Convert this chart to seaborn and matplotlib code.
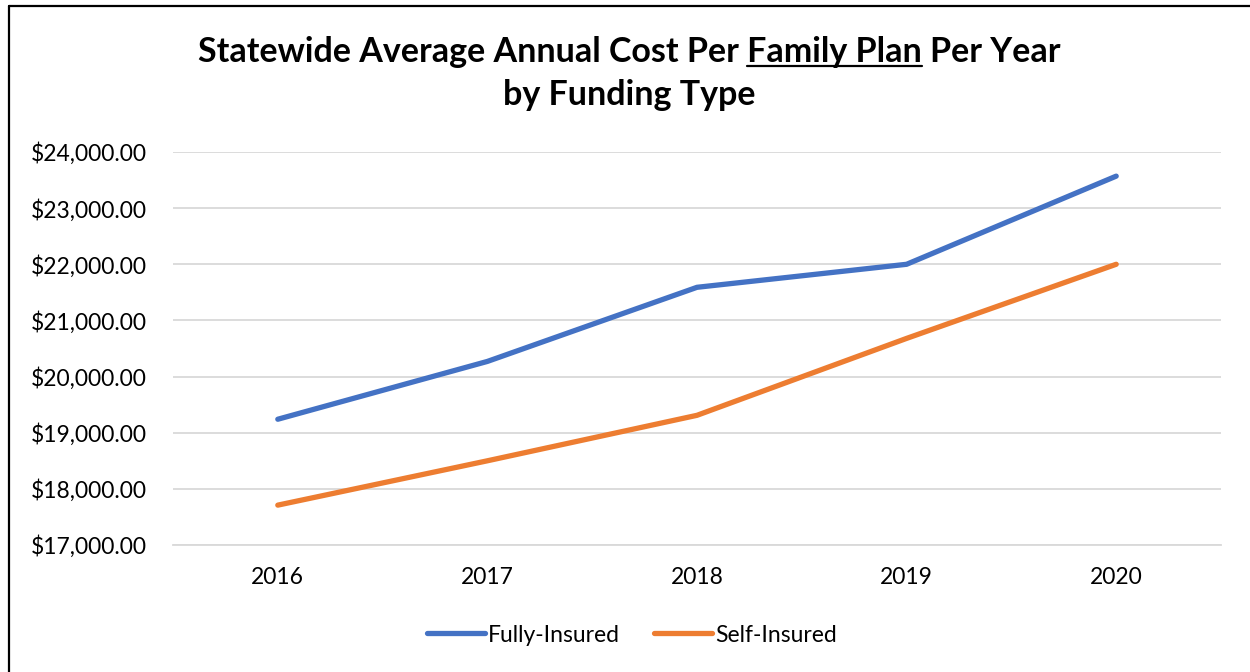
import pandas as pd
import seaborn as sns
import matplotlib.pyplot as plt
from matplotlib.lines import Line2D
from matplotlib.ticker import FuncFormatter

# values
years = ["2016", "2017", "2018", "2019", "2020"]
fully_insured = [19240, 20270, 21590, 22000, 23570]
self_insured = [17710, 18500, 19310, 20680, 22000]
series_names = ["Fully-Insured", "Self-Insured"]
colors = ["#4472C4", "#ED7D31"]
y_ticks = [17000, 18000, 19000, 20000, 21000, 22000, 23000, 24000]

df = pd.DataFrame({
    "Year": years * 2,
    "Cost": fully_insured + self_insured,
    "Type": [series_names[0]] * len(years) + [series_names[1]] * len(years),
})

sns.set_theme(style="white")
plt.rcParams["font.family"] = ["Lato", "DejaVu Sans"]
plt.rcParams["text.color"] = "black"

W, H = 1250, 672
LABEL_FS = 16.5
fig = plt.figure(figsize=(W / 100, H / 100), dpi=100)
ax = fig.add_axes([173 / W, 1 - 545 / H, 1048 / W, 393 / H])

sns.lineplot(data=df, x="Year", y="Cost", hue="Type", palette=colors,
             linewidth=3.8, sort=False, ax=ax, solid_capstyle="round",
             legend=False)

ax.set_xlim(-0.5, len(years) - 0.5)
ax.set_ylim(y_ticks[0], y_ticks[-1])
ax.set_yticks(y_ticks)
ax.yaxis.set_major_formatter(FuncFormatter(lambda v, _: f"${v:,.2f}"))
ax.set_xlabel("")
ax.set_ylabel("")
ax.yaxis.grid(True, color="#D9D9D9", linewidth=1.3)
ax.set_axisbelow(True)
for side in ["left", "right", "top"]:
    ax.spines[side].set_visible(False)
ax.spines["bottom"].set_color("#D9D9D9")
ax.spines["bottom"].set_linewidth(1.3)
ax.tick_params(axis="y", length=0, pad=19, labelsize=LABEL_FS, labelcolor="black")
ax.tick_params(axis="x", length=0, pad=16, labelsize=LABEL_FS, labelcolor="black")

# legend below the plot
handles = [Line2D([], [], color=c, linewidth=3.8, solid_capstyle="round") for c in colors]
fig.legend(handles, series_names, loc="center", bbox_to_anchor=(632 / W, 1 - 635 / H),
           ncol=2, frameon=False, fontsize=LABEL_FS, handlelength=2.5,
           handletextpad=0.15, columnspacing=1.5)

# title, with "Family Plan" underlined
line1 = "Statewide Average Annual Cost Per Family Plan Per Year"
line2 = "by Funding Type"
cx = 629 / W
t1 = fig.text(cx, 1 - 62 / H, line1, ha="center", va="baseline",
              fontsize=24, fontweight="bold", color="black")
fig.canvas.draw()
renderer = fig.canvas.get_renderer()
fs = 24 * 862 / t1.get_window_extent(renderer).width
t1.set_fontsize(fs)
fig.text(cx, 1 - 105 / H, line2, ha="center", va="baseline",
         fontsize=fs, fontweight="bold", color="black")
fig.canvas.draw()

def text_width(s):
    tmp = fig.text(0, 0, s, fontsize=fs, fontweight="bold")
    w = tmp.get_window_extent(renderer).width
    tmp.remove()
    return w

left = t1.get_window_extent(renderer).x0
end = left + text_width("Statewide Average Annual Cost Per Family Plan")
start = end - text_width("Family Plan")
uy = 1 - 66 / H
fig.add_artist(Line2D([start / W, end / W], [uy, uy], color="black", linewidth=1.6))

# frame around the chart
fig.add_artist(Line2D([9 / W, 9 / W], [0, 1 - 6 / H], color="black", linewidth=1.6))
fig.add_artist(Line2D([9 / W, 1], [1 - 6 / H, 1 - 6 / H], color="black", linewidth=1.6))

fig.savefig("out.png", dpi=100)
